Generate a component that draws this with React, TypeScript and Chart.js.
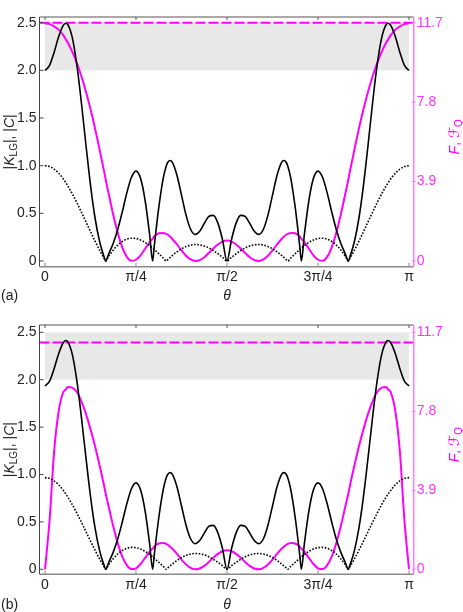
import React, { useEffect, useRef } from "react";
import { Chart, registerables } from "chart.js";
Chart.register(...registerables);

// theta in units of pi
const theta = [
  0, 0.0125, 0.025, 0.0375, 0.05, 0.0575, 0.0625, 0.075, 0.0875, 0.1, 0.1125, 0.125, 0.1375, 0.15, 0.1625, 0.1667,
  0.175, 0.1875, 0.2, 0.2125, 0.225, 0.2375, 0.25, 0.2625, 0.275, 0.2875, 0.2957, 0.3, 0.3125, 0.325, 0.3333, 0.3375,
  0.3438, 0.35, 0.3625, 0.375, 0.3875, 0.4, 0.4125, 0.425, 0.4375, 0.45, 0.4625, 0.475, 0.4875, 0.5,
  0.5125, 0.525, 0.5375, 0.55, 0.5625, 0.575, 0.5875, 0.6, 0.6125, 0.625, 0.6375, 0.65, 0.6562, 0.6625, 0.6667,
  0.675, 0.6875, 0.7, 0.7043, 0.7125, 0.725, 0.7375, 0.75, 0.7625, 0.775, 0.7875, 0.8, 0.8125, 0.825, 0.8333,
  0.8375, 0.85, 0.8625, 0.875, 0.8875, 0.9, 0.9125, 0.925, 0.9375, 0.9425, 0.95, 0.9625, 0.975, 0.9875, 1,
];

// panel (a)
const kA = [
  2.0, 2.052, 2.188, 2.352, 2.472, 2.495, 2.483, 2.344, 2.057, 1.66, 1.217, 0.796, 0.451, 0.204, 0.041, 0,
  0.074, 0.187, 0.333, 0.518, 0.717, 0.878, 0.943, 0.867, 0.636, 0.276, 0, 0.15, 0.559, 0.873, 1.0, 1.036,
  1.055, 1.035, 0.9, 0.691, 0.481, 0.333, 0.279, 0.313, 0.394, 0.467, 0.479, 0.397, 0.226, 0,
  0.226, 0.397, 0.479, 0.467, 0.394, 0.313, 0.279, 0.333, 0.481, 0.691, 0.9, 1.035, 1.055, 1.036, 1.0,
  0.873, 0.559, 0.15, 0, 0.276, 0.636, 0.867, 0.943, 0.878, 0.717, 0.518, 0.333, 0.187, 0.074, 0,
  0.041, 0.204, 0.451, 0.796, 1.217, 1.66, 2.057, 2.344, 2.483, 2.495, 2.472, 2.352, 2.188, 2.052, 2.0,
];
const cA = [
  1.0, 0.991, 0.964, 0.921, 0.862, 0.82, 0.789, 0.705, 0.612, 0.513, 0.411, 0.308, 0.208, 0.113, 0.027, 0,
  0.05, 0.115, 0.167, 0.205, 0.229, 0.239, 0.236, 0.221, 0.195, 0.161, 0.136, 0.121, 0.077, 0.031, 0, 0.015,
  0.037, 0.058, 0.096, 0.128, 0.151, 0.167, 0.173, 0.169, 0.157, 0.137, 0.109, 0.076, 0.039, 0,
  0.039, 0.076, 0.109, 0.137, 0.157, 0.169, 0.173, 0.167, 0.151, 0.128, 0.096, 0.058, 0.037, 0.015, 0,
  0.031, 0.077, 0.121, 0.136, 0.161, 0.195, 0.221, 0.236, 0.239, 0.229, 0.205, 0.167, 0.115, 0.05, 0,
  0.027, 0.113, 0.208, 0.308, 0.411, 0.513, 0.612, 0.705, 0.789, 0.82, 0.862, 0.921, 0.964, 0.991, 1.0,
];
const fA = [
  11.67, 11.63, 11.52, 11.36, 11.09, 10.87, 10.73, 10.27, 9.72, 9.07, 8.31, 7.46, 6.51, 5.47, 4.39, 4.0,
  3.3, 2.27, 1.37, 0.66, 0.2, 0.01, 0.06, 0.28, 0.6, 0.93, 1.09, 1.2, 1.36, 1.38, 1.33, 1.29,
  1.19, 1.08, 0.81, 0.52, 0.26, 0.08, 0.0, 0.04, 0.18, 0.39, 0.61, 0.81, 0.95, 1.0,
  0.95, 0.81, 0.61, 0.39, 0.18, 0.04, 0.0, 0.08, 0.26, 0.52, 0.81, 1.08, 1.19, 1.29, 1.33,
  1.38, 1.36, 1.2, 1.09, 0.93, 0.6, 0.28, 0.06, 0.01, 0.2, 0.66, 1.37, 2.27, 3.3, 4.0,
  4.39, 5.47, 6.51, 7.46, 8.31, 9.07, 9.72, 10.27, 10.73, 10.87, 11.09, 11.36, 11.52, 11.63, 11.67,
];
const fqA = 11.7;

// panel (b)
const kB = [
  1.934, 1.984, 2.116, 2.274, 2.39, 2.413, 2.401, 2.267, 1.989, 1.605, 1.177, 0.77, 0.436, 0.197, 0.04, 0,
  0.072, 0.181, 0.322, 0.501, 0.693, 0.849, 0.912, 0.838, 0.615, 0.267, 0, 0.145, 0.541, 0.844, 0.967, 1.002,
  1.02, 1.001, 0.87, 0.668, 0.465, 0.322, 0.27, 0.303, 0.381, 0.452, 0.463, 0.384, 0.219, 0,
  0.219, 0.384, 0.463, 0.452, 0.381, 0.303, 0.27, 0.322, 0.465, 0.668, 0.87, 1.001, 1.02, 1.002, 0.967,
  0.844, 0.541, 0.145, 0, 0.267, 0.615, 0.838, 0.912, 0.849, 0.693, 0.501, 0.322, 0.181, 0.072, 0,
  0.04, 0.197, 0.436, 0.77, 1.177, 1.605, 1.989, 2.267, 2.401, 2.413, 2.39, 2.274, 2.116, 1.984, 1.934,
];
const cB = [
  0.967, 0.958, 0.932, 0.891, 0.834, 0.793, 0.763, 0.682, 0.592, 0.496, 0.397, 0.298, 0.201, 0.109, 0.026, 0,
  0.048, 0.111, 0.161, 0.198, 0.221, 0.231, 0.228, 0.214, 0.189, 0.156, 0.132, 0.117, 0.074, 0.03, 0, 0.015,
  0.036, 0.056, 0.093, 0.124, 0.146, 0.161, 0.167, 0.163, 0.152, 0.132, 0.105, 0.073, 0.038, 0,
  0.038, 0.073, 0.105, 0.132, 0.152, 0.163, 0.167, 0.161, 0.146, 0.124, 0.093, 0.056, 0.036, 0.015, 0,
  0.03, 0.074, 0.117, 0.132, 0.156, 0.189, 0.214, 0.228, 0.231, 0.221, 0.198, 0.161, 0.111, 0.048, 0,
  0.026, 0.109, 0.201, 0.298, 0.397, 0.496, 0.592, 0.682, 0.763, 0.793, 0.834, 0.891, 0.932, 0.958, 0.967,
];
const fB = [
  0, 2.4, 5.8, 7.8, 8.73, 8.88, 9.0, 8.97, 8.75, 8.29, 7.67, 6.92, 6.07, 5.12, 4.11, 3.74,
  3.09, 2.12, 1.28, 0.62, 0.19, 0.01, 0.05, 0.26, 0.56, 0.87, 1.02, 1.12, 1.27, 1.3, 1.25, 1.2,
  1.11, 1.01, 0.76, 0.48, 0.24, 0.07, 0.0, 0.04, 0.17, 0.36, 0.57, 0.76, 0.89, 0.94,
  0.89, 0.76, 0.57, 0.36, 0.17, 0.04, 0.0, 0.07, 0.24, 0.48, 0.76, 1.01, 1.11, 1.2, 1.25,
  1.3, 1.27, 1.12, 1.02, 0.87, 0.56, 0.26, 0.05, 0.01, 0.19, 0.62, 1.28, 2.12, 3.09, 3.74,
  4.11, 5.12, 6.07, 6.92, 7.67, 8.29, 8.75, 8.97, 9.0, 8.88, 8.73, 7.8, 5.8, 2.4, 0,
];
const fqB = 11.2;

const xTickValues = [0, 0.25, 0.5, 0.75, 1];
const xTickLabels = ["0", "π/4", "π/2", "3π/4", "π"];
const yTickValues = [0, 0.5, 1, 1.5, 2, 2.5];
const yTickLabels = ["0", "0.5", "1.0", "1.5", "2.0", "2.5"];
const y2TickValues = [0, 3.9, 7.8, 11.7];
const y2TickLabels = ["0", "3.9", "7.8", "11.7"];
const bandRange = [2.0, 2.5];
const RATIO = 11.7 / 2.5;

const W = 463;
const H = 303;
const X_MIN = -0.0151;
const X_MAX = 1.0129;
const LEFT = 39.5;
const RIGHT = 413.7;
const FONT = "'Liberation Sans', Arial, sans-serif";
const MAGENTA = "#ff00ff";

type PanelCfg = {
  letter: string;
  k: number[];
  c: number[];
  f: number[];
  fq: number;
  top: number;
  bottom: number;
  yMin: number;
  yMax: number;
};

const panels: PanelCfg[] = [
  { letter: "(a)", k: kA, c: cA, f: fA, fq: fqA, top: 17, bottom: 266.7, yMin: -0.06, yMax: 2.56 },
  { letter: "(b)", k: kB, c: cB, f: fB, fq: fqB, top: 16, bottom: 265.3, yMin: -0.053, yMax: 2.577 },
];

function pts(ys: number[]) {
  return theta.map((t, i) => ({ x: t, y: ys[i] }));
}

type Part = { t: string; f: string; dy?: number };

function drawParts(ctx: CanvasRenderingContext2D, parts: Part[], cx: number, cy: number, rot: number, color: string) {
  ctx.save();
  ctx.translate(cx, cy);
  ctx.rotate(rot);
  ctx.fillStyle = color;
  ctx.textBaseline = "alphabetic";
  ctx.textAlign = "left";
  let w = 0;
  for (const p of parts) {
    ctx.font = p.f;
    w += ctx.measureText(p.t).width;
  }
  let x = -w / 2;
  for (const p of parts) {
    ctx.font = p.f;
    ctx.fillText(p.t, x, 5 + (p.dy || 0));
    x += ctx.measureText(p.t).width;
  }
  ctx.restore();
}

const framePlugin = {
  id: "frame",
  beforeDatasetsDraw(chart: any) {
    const { ctx, scales } = chart;
    const x = scales.x;
    const y = scales.y;
    const x0 = x.getPixelForValue(0);
    const x1 = x.getPixelForValue(1);
    const yt = y.getPixelForValue(bandRange[1]);
    const yb = y.getPixelForValue(bandRange[0]);
    ctx.save();
    ctx.fillStyle = "#e8e8e8";
    ctx.fillRect(x0, yt, x1 - x0, yb - yt);
    ctx.restore();
  },
  afterDraw(chart: any, _args: any, opts: any) {
    const { ctx, chartArea: a, scales } = chart;
    const x = scales.x;
    const y = scales.y;
    const y2 = scales.y2;
    ctx.save();
    // top
    ctx.strokeStyle = "#555";
    ctx.lineWidth = 1;
    ctx.beginPath();
    ctx.moveTo(a.left, a.top);
    ctx.lineTo(a.right, a.top);
    ctx.stroke();
    for (const v of xTickValues) {
      const px = x.getPixelForValue(v);
      ctx.beginPath();
      ctx.moveTo(px, a.top);
      ctx.lineTo(px, a.top + 3);
      ctx.stroke();
    }
    // left
    ctx.strokeStyle = "#444";
    ctx.beginPath();
    ctx.moveTo(a.left, a.top);
    ctx.lineTo(a.left, a.bottom);
    ctx.stroke();
    for (const v of yTickValues) {
      const py = y.getPixelForValue(v);
      ctx.beginPath();
      ctx.moveTo(a.left, py);
      ctx.lineTo(a.left + 4, py);
      ctx.stroke();
    }
    // bottom
    ctx.strokeStyle = "#8a8a8a";
    ctx.lineWidth = 1.6;
    ctx.beginPath();
    ctx.moveTo(a.left, a.bottom);
    ctx.lineTo(a.right, a.bottom);
    ctx.stroke();
    ctx.lineWidth = 1;
    for (const v of xTickValues) {
      const px = x.getPixelForValue(v);
      ctx.beginPath();
      ctx.moveTo(px, a.bottom);
      ctx.lineTo(px, a.bottom - 4);
      ctx.stroke();
    }
    // right
    ctx.strokeStyle = "#ff7aff";
    ctx.lineWidth = 1.5;
    ctx.beginPath();
    ctx.moveTo(a.right, a.top);
    ctx.lineTo(a.right, a.bottom);
    ctx.stroke();
    ctx.lineWidth = 1;
    for (const v of y2TickValues) {
      const py = y2.getPixelForValue(v);
      ctx.beginPath();
      ctx.moveTo(a.right - 2, py);
      ctx.lineTo(a.right + 2, py);
      ctx.stroke();
    }
    ctx.restore();

    const midY = (a.top + a.bottom) / 2;
    drawParts(
      ctx,
      [
        { t: "|", f: `14px ${FONT}` },
        { t: "K", f: `italic 14px ${FONT}` },
        { t: "LG", f: `10px ${FONT}`, dy: 3 },
        { t: "|, |", f: `14px ${FONT}` },
        { t: "C", f: `italic 14px ${FONT}` },
        { t: "|", f: `14px ${FONT}` },
      ],
      9,
      midY,
      -Math.PI / 2,
      "#222"
    );
    drawParts(
      ctx,
      [
        { t: "F", f: `italic 14px ${FONT}` },
        { t: ", ", f: `14px ${FONT}` },
        { t: "ℱ", f: `italic 14px 'DejaVu Sans', ${FONT}` },
        { t: "Q", f: `10px ${FONT}`, dy: 3 },
      ],
      454,
      midY - 5,
      -Math.PI / 2,
      MAGENTA
    );
    ctx.save();
    ctx.fillStyle = "#222";
    ctx.font = `italic 14px ${FONT}`;
    ctx.textAlign = "center";
    ctx.textBaseline = "middle";
    ctx.fillText("θ", x.getPixelForValue(0.5), 296);
    ctx.font = `14px ${FONT}`;
    ctx.textAlign = "left";
    ctx.fillText(opts.letter, 1, 296);
    ctx.restore();
  },
};

function buildConfig(p: PanelCfg): any {
  const line = { pointRadius: 0, cubicInterpolationMode: "monotone", fill: false };
  return {
    type: "line",
    data: {
      datasets: [
        { ...line, data: pts(p.c), borderColor: "#000", borderWidth: 1.6, borderDash: [1.6, 1.6], yAxisID: "y" },
        { ...line, data: pts(p.k), borderColor: "#000", borderWidth: 1.6, yAxisID: "y" },
        { ...line, data: pts(p.f), borderColor: MAGENTA, borderWidth: 2, yAxisID: "y2" },
        {
          ...line,
          data: [
            { x: X_MIN, y: p.fq },
            { x: X_MAX, y: p.fq },
          ],
          borderColor: MAGENTA,
          borderWidth: 2,
          borderDash: [10, 3],
          yAxisID: "y2",
        },
      ],
    },
    options: {
      animation: false,
      responsive: false,
      devicePixelRatio: 1,
      layout: { padding: { top: p.top, left: 0, right: 0, bottom: 0 } },
      plugins: { legend: { display: false }, tooltip: { enabled: false }, frame: { letter: p.letter } },
      scales: {
        x: {
          type: "linear",
          min: X_MIN,
          max: X_MAX,
          grid: { display: false, drawTicks: false },
          border: { display: false },
          afterBuildTicks: (s: any) => {
            s.ticks = xTickValues.map((v) => ({ value: v }));
          },
          afterFit: (s: any) => {
            s.height = H - p.bottom;
          },
          ticks: {
            autoSkip: false,
            maxRotation: 0,
            padding: 2,
            color: "#222",
            font: { family: FONT, size: 14 },
            callback: (_v: any, i: number) => xTickLabels[i],
          },
        },
        y: {
          position: "left",
          min: p.yMin,
          max: p.yMax,
          grid: { display: false, drawTicks: false },
          border: { display: false },
          afterBuildTicks: (s: any) => {
            s.ticks = yTickValues.map((v) => ({ value: v }));
          },
          afterFit: (s: any) => {
            s.width = LEFT;
          },
          ticks: {
            autoSkip: false,
            padding: 3,
            color: "#222",
            font: { family: FONT, size: 14 },
            callback: (_v: any, i: number) => yTickLabels[i],
          },
        },
        y2: {
          position: "right",
          min: p.yMin * RATIO,
          max: p.yMax * RATIO,
          grid: { display: false, drawTicks: false },
          border: { display: false },
          afterBuildTicks: (s: any) => {
            s.ticks = y2TickValues.map((v) => ({ value: v }));
          },
          afterFit: (s: any) => {
            s.width = W - RIGHT;
          },
          ticks: {
            autoSkip: false,
            padding: 3,
            color: "#ff33ff",
            font: { family: FONT, size: 14 },
            callback: (_v: any, i: number) => y2TickLabels[i],
          },
        },
      },
    },
    plugins: [framePlugin],
  };
}

function Panel({ cfg, top }: { cfg: PanelCfg; top: number }) {
  const ref = useRef<HTMLCanvasElement>(null);
  useEffect(() => {
    const chart = new Chart(ref.current as HTMLCanvasElement, buildConfig(cfg));
    return () => chart.destroy();
  }, [cfg]);
  return (
    <canvas
      ref={ref}
      width={W}
      height={H}
      style={{ position: "absolute", left: 0, top, width: W, height: H, display: "block" }}
    />
  );
}

export default function App() {
  return (
    <div style={{ position: "absolute", left: 0, top: 0, width: W, height: 612, background: "#fff" }}>
      <Panel cfg={panels[0]} top={0} />
      <Panel cfg={panels[1]} top={309} />
    </div>
  );
}
